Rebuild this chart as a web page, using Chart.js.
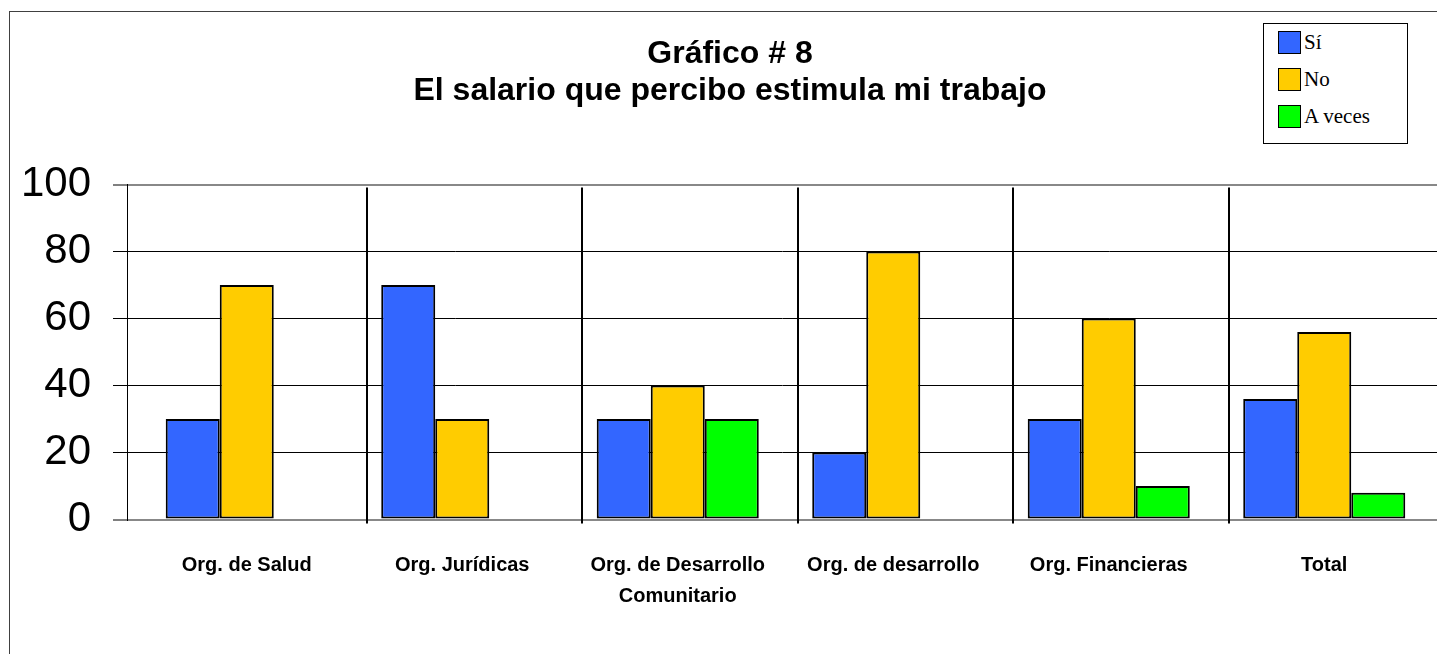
<!DOCTYPE html>
<html>
<head>
<meta charset="utf-8">
<script src="https://cdn.jsdelivr.net/npm/chart.js@4/dist/chart.umd.min.js"></script>
<style>
  body { margin: 0; background: #fff; overflow: hidden; }
  #wrap { position: relative; width: 1437px; height: 654px; overflow: hidden; }
  #frame { position: absolute; left: 9px; top: 11px; width: 1500px; height: 700px; border: 1px solid #404040; }
  #myChart { position: absolute; left: 0; top: 0; }
  #legend { position: absolute; left: 1263px; top: 23px; width: 143px; height: 119px; border: 1.5px solid #000; background: #fff; }
  .item { height: 37px; display: flex; align-items: center; padding-left: 14px; font: 21px "Liberation Serif", serif; color: #000; }
  .box { width: 21px; height: 21px; border: 1.5px solid #000; margin-right: 3px; }
</style>
</head>
<body>
<div id="wrap">
  <div id="frame"></div>
  <canvas id="myChart" width="1437" height="654"></canvas>
  <div id="legend"></div>
</div>
<script>
const categories = ['Org. de Salud', 'Org. Jurídicas', ['Org. de Desarrollo', 'Comunitario'], 'Org. de desarrollo', 'Org. Financieras', 'Total'];
const seriesNames = ['Sí', 'No', 'A veces'];
const si = [30, 70, 30, 20, 30, 36];
const no = [70, 30, 40, 80, 60, 56];
const aVeces = [0, 0, 30, 0, 10, 8];
const yTicks = [0, 20, 40, 60, 80, 100];
const colors = ['#3366FF', '#FFCC00', '#00FF00'];

const data = {
  labels: categories,
  datasets: [si, no, aVeces].map((vals, i) => ({
    label: seriesNames[i],
    data: vals,
    backgroundColor: colors[i],
    borderColor: '#000',
    borderWidth: 2,
    borderSkipped: false,
    categoryPercentage: 0.752,
    barPercentage: 1.0
  }))
};

// the category band sits a little inside the plot frame, like the original
const shiftX = {
  id: 'shiftX',
  afterLayout(chart) {
    const x = chart.scales.x;
    x._startPixel = x.left + 12;
    x._endPixel = x.right - 5;
    x._length = x._endPixel - x._startPixel;
  }
};

// vertical separators between the groups
const separators = {
  id: 'separators',
  beforeDatasetsDraw(chart) {
    const {ctx, scales: {x, y}} = chart;
    ctx.save();
    ctx.strokeStyle = '#000';
    ctx.lineWidth = 2;
    for (let i = 1; i < categories.length; i++) {
      const px = Math.round((x.getPixelForValue(i - 1) + x.getPixelForValue(i)) / 2 + 12);
      ctx.beginPath();
      ctx.moveTo(px, y.getPixelForValue(100) + 3);
      ctx.lineTo(px, y.getPixelForValue(0) + 4);
      ctx.stroke();
    }
    ctx.restore();
  }
};

// config
const config = {
  type: 'bar',
  data,
  options: {
    responsive: false,
    animation: false,
    layout: { padding: { left: 23, right: 0, top: 0, bottom: 0 } },
    plugins: {
      legend: { display: false },
      tooltip: { enabled: false },
      title: {
        display: true,
        text: ['Gráfico # 8', 'El salario que percibo estimula mi trabajo'],
        color: '#000',
        font: { family: 'Liberation Sans', size: 32, weight: 'bold', lineHeight: 1.15 },
        padding: { top: 36, bottom: 75 }
      }
    },
    scales: {
      x: {
        afterFit(scale) {
          scale.height = 134.5;
          scale.paddingLeft = 0;
          scale.paddingRight = 0;
        },
        grid: { display: false },
        border: { display: false },
        ticks: {
          color: '#000',
          padding: 22,
          maxRotation: 0,
          autoSkip: false,
          font: { family: 'Liberation Sans', size: 20, weight: 'bold', lineHeight: 1.55 }
        }
      },
      y: {
        min: 0,
        max: 100,
        afterBuildTicks(scale) {
          scale.ticks = yTicks.map(v => ({ value: v }));
        },
        afterFit(scale) {
          scale.width = 104;
          scale.paddingTop = 0;
          scale.paddingBottom = 0;
        },
        grid: {
          color: c => (c.tick.value === 0 || c.tick.value === 100) ? '#888' : '#000',
          lineWidth: c => (c.tick.value === 0 || c.tick.value === 100) ? 2 : 1,
          tickColor: '#000',
          tickWidth: 1,
          tickLength: 14
        },
        border: { display: true, color: '#000', width: 1 },
        ticks: {
          color: '#000',
          padding: 22,
          font: { family: 'Liberation Sans', size: 42 }
        }
      }
    }
  },
  plugins: [shiftX, separators]
};

// render init block
const myChart = new Chart(
  document.getElementById('myChart'),
  config
);

// legend box
const legend = document.getElementById('legend');
seriesNames.forEach((name, i) => {
  const row = document.createElement('div');
  row.className = 'item';
  row.innerHTML = '<span class="box" style="background:' + colors[i] + '"></span>' + name;
  legend.appendChild(row);
});
</script>
</body>
</html>
